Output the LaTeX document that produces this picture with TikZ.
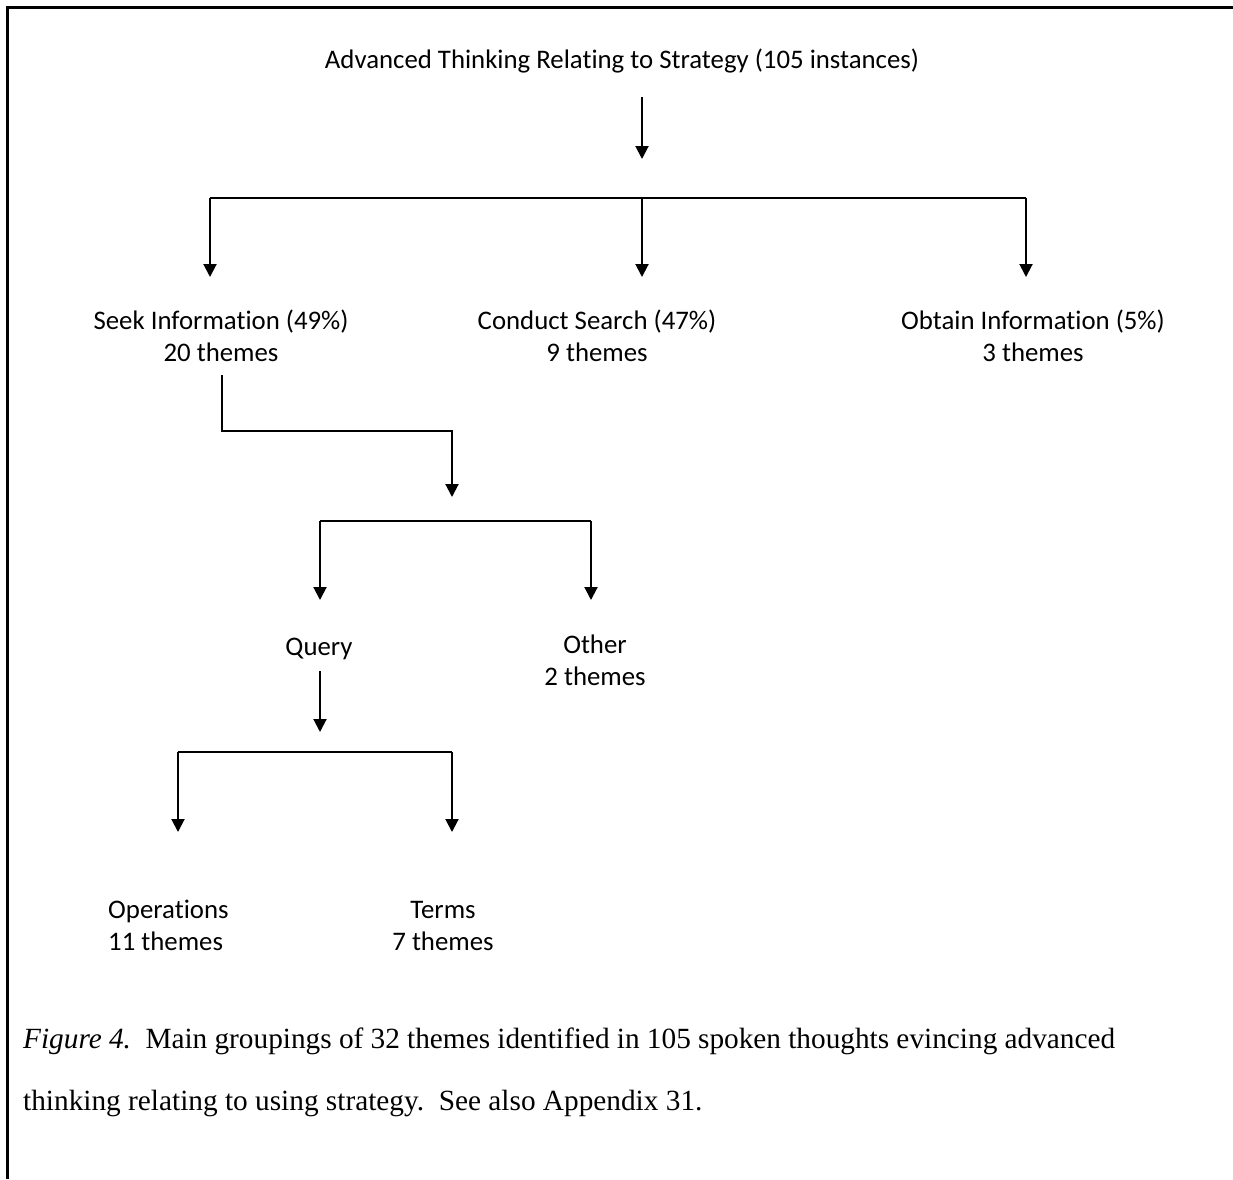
\documentclass[tikz,border=0pt]{standalone}
\usepackage{fontspec}
\setmainfont{Carlito}[Ligatures=NoCommon]
\newfontfamily\capfont{Liberation Serif}
\usetikzlibrary{arrows.meta}

\tikzset{
  lbl/.style={inner sep=0pt, anchor=base, align=center,
              font=\fontsize{26.8}{32}\selectfont},
  link/.style={line width=2pt},
  arr/.style={line width=2pt, -{Triangle[width=13pt,length=13pt]}},
  frame/.style={line width=2.5pt},
  captxt/.style={inner sep=0pt, anchor=base west,
                 font=\capfont\fontsize{29.3}{35}\selectfont}
}

\begin{document}
\begin{tikzpicture}[x=1pt,y=-1pt]
\useasboundingbox (0,0) rectangle (1233,1179);

% open frame: top and left edges
\draw[frame] (1233,7.5) -- (7.5,7.5) -- (7.5,1179);

% labels (two-line labels sit on the baseline of their last line)
\node[lbl] (top)   at (622,68)  {Advanced Thinking Relating to Strategy (105 instances)};
\node[lbl] (seek)  at (221,361) {Seek Information (49\%)\\20 themes};
\node[lbl] (cond)  at (597,361) {Conduct Search (47\%)\\9 themes};
\node[lbl] (obt)   at (1033,361){Obtain Information (5\%)\\3 themes};
\node[lbl] (query) at (319,655) {Query};
\node[lbl] (other) at (595,685) {Other\\2 themes};
\node[lbl, anchor=base west, align=left] (ops) at (108,950) {Operations\\11 themes};
\node[lbl] (terms) at (443,950) {Terms\\7 themes};

% junction points
\coordinate (t0) at (642,97);
\coordinate (t1) at (642,159);
\coordinate (b1) at (642,198);
\coordinate (s0) at (222,375);
\coordinate (s1) at (222,431);
\coordinate (s2) at (452,431);
\coordinate (s3) at (452,497);
\coordinate (b2) at (452,521);
\coordinate (q0) at (320,671);
\coordinate (q1) at (320,732);
\coordinate (b3) at (320,752);

% first level
\draw[arr] (t0) -- (t1);
\draw[link] (210,198) -- (1026,198);
\draw[arr] (210,198) -- (210,277);
\draw[arr] (b1) -- (642,277);
\draw[arr] (1026,198) -- (1026,277);

% seek information branch
\draw[arr] (s0) -- (s1) -- (s2) -- (s3);
\draw[link] (320,521) -- (591,521);
\draw[arr] (320,521) -- (320,600);
\draw[arr] (591,521) -- (591,600);

% query branch
\draw[arr] (q0) -- (q1);
\draw[link] (178,752) -- (452,752);
\draw[arr] (178,752) -- (178,832);
\draw[arr] (452,752) -- (452,832);

% caption
\node[captxt] (cap1) at (23,1048) {\makebox[1092pt][s]{\textit{Figure 4.}\ \ Main groupings of 32 themes identified in 105 spoken thoughts evincing advanced}};
\node[captxt] (cap2) at (23,1110) {thinking relating to using strategy.\ \ See also Appendix 31.};
\end{tikzpicture}
\end{document}
